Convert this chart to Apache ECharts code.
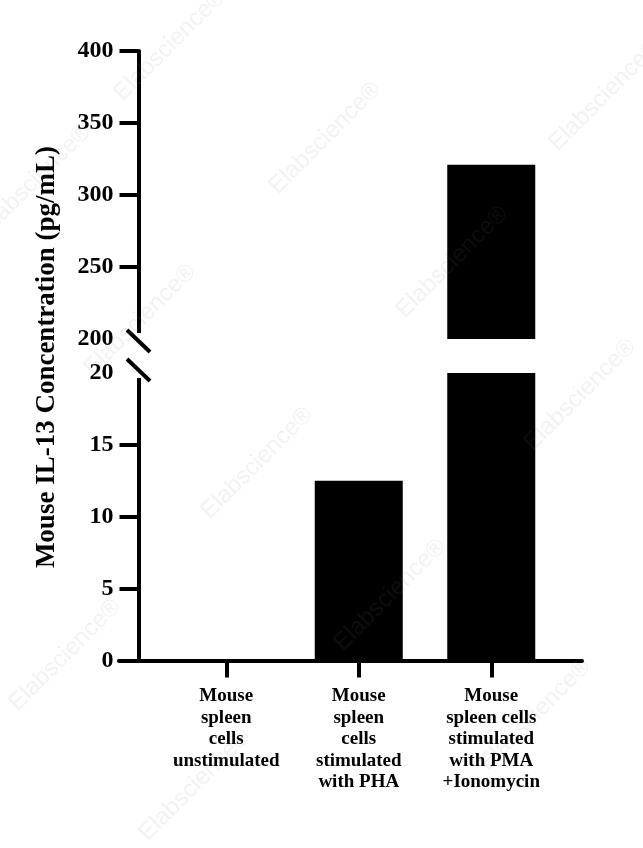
<!DOCTYPE html>
<html>
<head>
<meta charset="utf-8">
<script src="https://cdn.jsdelivr.net/npm/echarts@6/dist/echarts.min.js"></script>
<style>
html,body{margin:0;padding:0;background:#fff;}
#chart{width:643px;height:848px;}
</style>
</head>
<body>
<div id="chart"></div>
<script>
const categories = [
  'Mouse\nspleen\ncells\nunstimulated',
  'Mouse\nspleen\ncells\nstimulated\nwith PHA',
  'Mouse\nspleen cells\nstimulated\nwith PMA\n+Ionomycin'
];
const values = [0, 12.5, 321];
const lowerTickValues = [5, 10, 15];
const upperTickValues = [250, 300, 350, 400];
const yTitle = 'Mouse IL-13 Concentration (pg/mL)';
const watermarkText = 'Elabscience\u00AE';

const SERIF = '"Liberation Serif", "Times New Roman", serif';
const chart = echarts.init(document.getElementById('chart'), null, {renderer: 'canvas'});

const GL = 160, GW = 397.5, OFFSET = 21.5;
const axisLineStyle = {color: '#000', width: 4};
const yLabel = {color: '#000', fontFamily: SERIF, fontWeight: 'bold', fontSize: 24, margin: 25};

chart.setOption({
  animation: false,
  backgroundColor: '#fff',
  grid: [
    {left: GL, width: GW, top: 51, height: 288},
    {left: GL, width: GW, top: 373, height: 287.5},
    {left: 119, width: 463, top: 373, height: 287.5}
  ],
  xAxis: [
    {gridIndex: 0, type: 'category', data: categories, show: false},
    {gridIndex: 1, type: 'category', data: categories,
      axisLine: {show: false},
      axisTick: {show: true, alignWithLabel: true, length: 17, lineStyle: {color: '#000', width: 4}},
      axisLabel: {color: '#000', fontFamily: SERIF, fontWeight: 'bold', fontSize: 19, lineHeight: 21.5, margin: 25, interval: 0}
    },
    {gridIndex: 2, type: 'value', min: 0, max: 1,
      axisLine: {show: true, onZero: false, lineStyle: axisLineStyle},
      axisTick: {show: false}, axisLabel: {show: false}, splitLine: {show: false}}
  ],
  yAxis: [
    {gridIndex: 0, type: 'value', min: 200, max: 400, interval: 50, offset: OFFSET,
      axisLine: {show: true, lineStyle: axisLineStyle},
      axisTick: {show: true, length: 19, customValues: upperTickValues, lineStyle: {color: '#000', width: 4}},
      axisLabel: yLabel, splitLine: {show: false}},
    {gridIndex: 1, type: 'value', min: 0, max: 20, interval: 5, offset: OFFSET,
      axisLine: {show: true, lineStyle: axisLineStyle},
      axisTick: {show: true, length: 19, customValues: lowerTickValues, lineStyle: {color: '#000', width: 4}},
      axisLabel: yLabel, splitLine: {show: false}},
    {gridIndex: 2, type: 'value', min: 0, max: 1, show: false}
  ],
  series: [
    {type: 'bar', xAxisIndex: 0, yAxisIndex: 0, barWidth: 88, clip: true,
      itemStyle: {color: '#000'},
      data: values.map(v => v > 200 ? v : '-')},
    {type: 'bar', xAxisIndex: 1, yAxisIndex: 1, barWidth: 88, clip: true,
      itemStyle: {color: '#000'},
      data: values}
  ]
});

// axis break marks positioned through the axes' own scales
const axisX = GL - OFFSET;
const yBreakTop = chart.convertToPixel({yAxisIndex: 0}, 200) + 2;
const yBreakBot = chart.convertToPixel({yAxisIndex: 1}, 20) - 3;

const wmPos = [[170,45],[325,138],[605,95],[35,180],[452,262],[140,320],[580,395],[257,463],[390,595],[65,655],[195,785],[535,715]];
const graphics = wmPos.map(p => ({
  type: 'text', x: p[0], y: p[1], rotation: Math.PI / 4, z: 100, silent: true,
  style: {text: watermarkText, font: '24px "Liberation Sans", sans-serif', fill: 'rgba(128,128,128,0.10)', align: 'center', verticalAlign: 'middle'}
}));
[yBreakTop, yBreakBot].forEach(y => {
  graphics.push({type: 'rect', shape: {x: axisX - 4, y: y - 8, width: 8, height: 16}, style: {fill: '#fff'}, z: 50, silent: true});
});
[yBreakTop, yBreakBot].forEach(y => {
  graphics.push({type: 'line', shape: {x1: axisX - 11.5, y1: y - 11, x2: axisX + 11.5, y2: y + 11}, style: {stroke: '#000', lineWidth: 4}, z: 60, silent: true});
});
graphics.push({
  type: 'text', x: 47, y: 357, rotation: Math.PI / 2, z: 60,
  style: {text: yTitle, font: 'bold 27px ' + SERIF, fill: '#000', align: 'center', verticalAlign: 'middle'}
});
chart.setOption({graphic: graphics});
</script>
</body>
</html>
